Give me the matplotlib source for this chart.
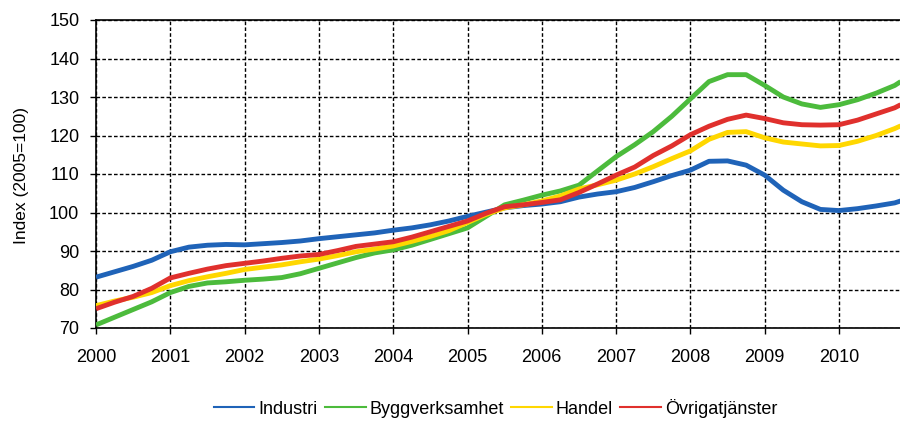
import numpy as np
import matplotlib
matplotlib.use("Agg")
import matplotlib.pyplot as plt

# Quarterly time points (decimal years) plus the last observation
years = [2000.0, 2000.25, 2000.5, 2000.75, 2001.0, 2001.25, 2001.5, 2001.75,
         2002.0, 2002.25, 2002.5, 2002.75, 2003.0, 2003.25, 2003.5, 2003.75,
         2004.0, 2004.25, 2004.5, 2004.75, 2005.0, 2005.25, 2005.5, 2005.75,
         2006.0, 2006.25, 2006.5, 2006.75, 2007.0, 2007.25, 2007.5, 2007.75,
         2008.0, 2008.25, 2008.5, 2008.75, 2009.0, 2009.25, 2009.5, 2009.75,
         2010.0, 2010.25, 2010.5, 2010.75, 2010.83]

industri = [83.2, 84.6, 86.0, 87.6, 89.8, 91.0, 91.5, 91.7,
            91.6, 91.9, 92.2, 92.6, 93.2, 93.7, 94.2, 94.7,
            95.4, 96.0, 96.8, 97.8, 99.0, 100.1, 101.2, 101.8,
            102.2, 102.8, 104.0, 104.8, 105.4, 106.5, 108.0, 109.6,
            111.0, 113.3, 113.4, 112.3, 109.7, 105.8, 102.8, 100.8,
            100.5, 101.0, 101.7, 102.5, 103.0]

bygg = [70.8, 72.8, 74.8, 76.8, 79.2, 80.8, 81.7, 82.0,
        82.4, 82.7, 83.1, 84.1, 85.5, 86.9, 88.3, 89.5,
        90.3, 91.5, 93.0, 94.5, 96.0, 99.0, 102.0, 103.2,
        104.5, 105.6, 107.1, 110.8, 114.5, 117.6, 121.0, 125.0,
        129.5, 134.0, 135.8, 135.8, 133.0, 130.0, 128.2, 127.3,
        128.0, 129.3, 131.0, 133.0, 134.0]

handel = [75.8, 77.0, 78.0, 79.2, 81.0, 82.3, 83.3, 84.2,
          85.2, 85.8, 86.4, 87.2, 87.9, 88.8, 89.8, 90.5,
          91.3, 92.5, 93.8, 95.3, 97.4, 99.5, 101.2, 102.0,
          103.0, 104.3, 106.1, 107.2, 108.4, 110.0, 111.9, 114.0,
          116.0, 119.0, 120.8, 121.0, 119.4, 118.3, 117.8, 117.3,
          117.4, 118.5, 120.0, 121.8, 122.5]

ovriga = [75.0, 76.7, 78.2, 80.3, 83.0, 84.2, 85.3, 86.2,
          86.8, 87.4, 88.1, 88.7, 89.1, 90.1, 91.2, 91.8,
          92.4, 93.6, 95.0, 96.4, 97.8, 99.8, 101.5, 102.0,
          102.6, 103.3, 105.2, 107.4, 109.7, 111.8, 114.8, 117.3,
          120.2, 122.4, 124.2, 125.3, 124.4, 123.3, 122.8, 122.7,
          122.8, 124.0, 125.6, 127.2, 128.0]

series_names = ["Industri", "Byggverksamhet", "Handel", "Övrigatjänster"]
series_values = [industri, bygg, handel, ovriga]
colors = ["#1f63b8", "#4cbb3c", "#ffd700", "#e0302d"]

x_ticks = list(range(2000, 2011))
y_ticks = list(range(70, 151, 10))

plt.rcParams['font.family'] = ['Liberation Sans', 'DejaVu Sans']

fig = plt.figure(figsize=(9.0, 4.22), dpi=100)
ax = fig.add_axes([96/900, 1-328/422, 1-96/900, (328-20)/422])

for name, vals, c in zip(series_names, series_values, colors):
    ax.plot(years, vals, color=c, lw=3.5, solid_capstyle='butt', zorder=3)

ax.set_xlim(2000, 2000 + 804/74.3)
ax.set_ylim(70, 150)
ax.set_xticks(x_ticks)
ax.set_yticks(y_ticks)
ax.tick_params(axis='both', direction='out', length=4, width=1, labelsize=13, colors='black')
ax.tick_params(axis='x', pad=11)
ax.tick_params(axis='y', pad=8)

ax.grid(True, color='black', linestyle=(0, (2.6, 1.6)), linewidth=1.0, zorder=1)
ax.set_axisbelow(True)

for s in ['left', 'bottom', 'top']:
    ax.spines[s].set_color('black')
    ax.spines[s].set_linewidth(1.2)
ax.spines['right'].set_visible(False)

fig.text(22/900, 1-175/422, "Index (2005=100)", rotation=90, ha='center', va='center', fontsize=12.5)

handles = [plt.Line2D([0], [0], color=c, lw=1.5) for c in colors]
fig.legend(handles, series_names, loc='center', bbox_to_anchor=(495.5/900, 1-408/422),
           ncol=4, frameon=False, fontsize=13, handlelength=2.25, handletextpad=0.22,
           columnspacing=0.4, borderaxespad=0, borderpad=0)

fig.savefig("out.png", dpi=100)
